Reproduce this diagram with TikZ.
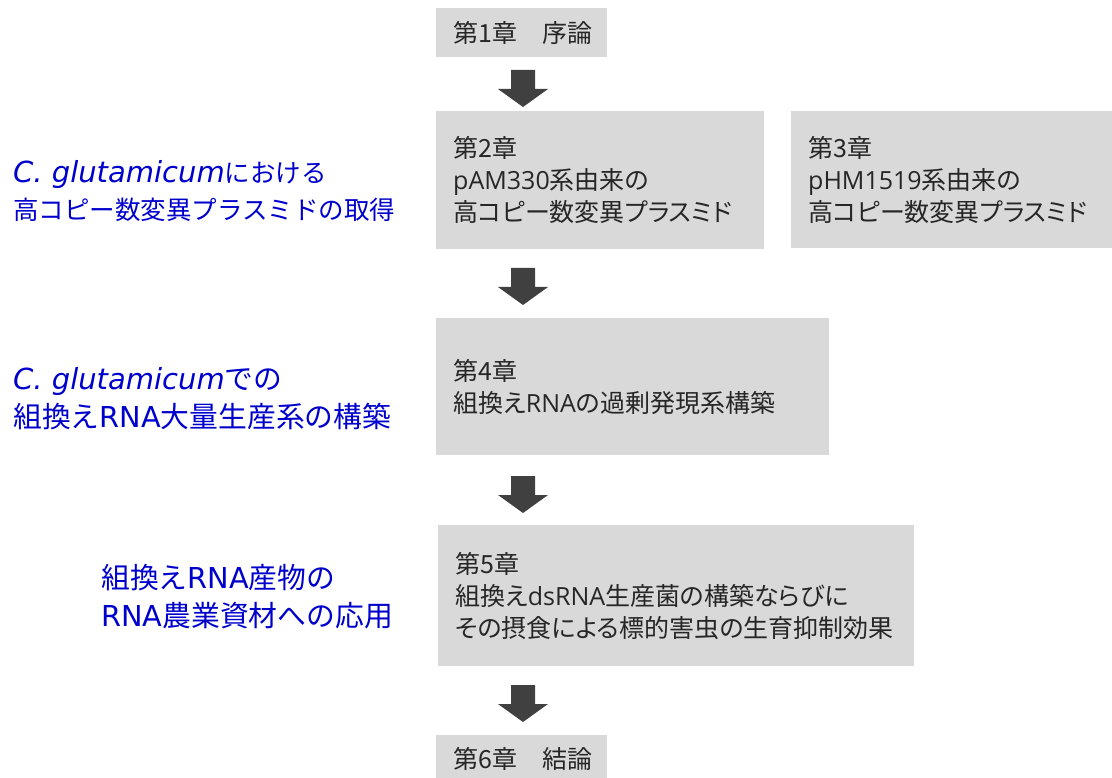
\documentclass[tikz,border=0pt]{standalone}
\usepackage{fontspec}
\setmainfont{Noto Sans CJK JP}
\newfontfamily\boxfont{Noto Sans CJK JP}[CharacterWidth=AlternateProportional]
\newfontfamily\widelat{DejaVu Sans}
\newfontfamily\boxlat{Open Sans}
\definecolor{boxgray}{HTML}{D9D9D9}
\definecolor{arrowgray}{HTML}{404040}
\definecolor{labelblue}{RGB}{0,0,204}
\newcommand{\bl}[1]{{\boxlat #1}}
\newcommand{\wl}[1]{{\widelat #1}}
\newcommand{\spec}{{\widelat\itshape\fontsize{29}{37}\selectfont C. glutamicum}}
\tikzset{
  chapbox/.style={rectangle, fill=boxgray, draw=none, anchor=north west, inner xsep=17pt, inner ysep=0pt,
    align=left, font=\boxfont\fontsize{25}{32}\selectfont, text=black!85},
  sidelabel/.style={anchor=west, inner sep=0pt, align=left, text=labelblue, font=\fontsize{25.5}{37}\selectfont},
  biglabel/.style={sidelabel, font=\fontsize{28.8}{38}\selectfont},
  downarrow/.pic={\fill[arrowgray] (-12,-18.5) -- (12,-18.5) -- (12,0.5) -- (25,0.5) -- (0,18.5) -- (-25,0.5) -- (-12,0.5) -- cycle;}
}
\begin{document}
\begin{tikzpicture}[x=1pt,y=-1pt]
\useasboundingbox (0,0) rectangle (1112,778);
% chapter boxes
\node[chapbox, text width=137pt, minimum height=49pt] (c1) at (436,8) {第1章　序論};
\node[chapbox, text width=294pt, minimum height=138pt] (c2) at (436,111) {第2章\\\bl{pAM330}系由来の\\高コピー数変異プラスミド};
\node[chapbox, text width=287pt, minimum height=137pt] (c3) at (791,111) {第3章\\\bl{pHM1519}系由来の\\高コピー数変異プラスミド};
\node[chapbox, text width=359pt, minimum height=137pt] (c4) at (436,318) {第4章\\組換え\bl{RNA}の過剰発現系構築};
\node[chapbox, text width=442pt, minimum height=141pt] (c5) at (438,525) {第5章\\組換え\bl{dsRNA}生産菌の構築ならびに\\その摂食による標的害虫の生育抑制効果};
\node[chapbox, text width=137pt, minimum height=48pt] (c6) at (436,735) {第6章　結論};
% arrows
\pic at (523,88.5) {downarrow};
\pic at (523,286.5) {downarrow};
\pic at (523,494.5) {downarrow};
\pic at (523,703.5) {downarrow};
% side labels
\node[sidelabel] (l1) at (13,191) {\spec における\\高コピー数変異プラスミドの取得};
\node[biglabel] (l2) at (13,399) {\spec での\\組換え\wl{RNA}大量生産系の構築};
\node[biglabel] (l3) at (101,597) {組換え\wl{RNA}産物の\\\wl{RNA}農業資材への応用};
\end{tikzpicture}
\end{document}
